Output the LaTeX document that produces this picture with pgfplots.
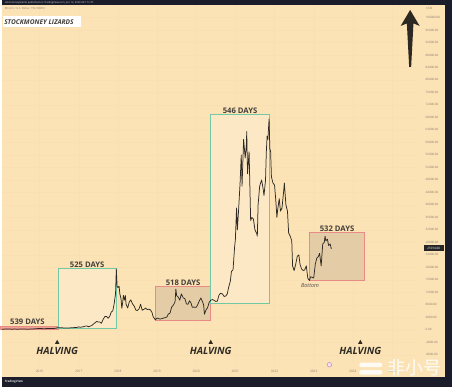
\documentclass[border=0pt]{standalone}
\usepackage{pgfplots}
\pgfplotsset{compat=1.18}
\usepackage{fontspec}
\setmainfont{Open Sans}
\newfontfamily\cjk{Noto Sans CJK SC}
\definecolor{bg}{HTML}{FCE3B6}
\definecolor{frame}{HTML}{1B1E2A}
\definecolor{gbox}{HTML}{72C9A3}
\definecolor{rbox}{HTML}{E88A86}
\definecolor{rfill}{HTML}{E3CCA6}
\definecolor{gfill}{HTML}{FDE8C6}
\definecolor{ink}{HTML}{2E2A24}
\definecolor{tickc}{HTML}{8C8070}
\definecolor{gridc}{HTML}{F9DFB1}
\begin{document}
\begin{tikzpicture}[x=1pt,y=1pt]
\fill[frame] (0,0) rectangle (452,388);
\fill[bg] (0,10) rectangle (445,383);
\begin{axis}[at={(0pt,22pt)}, anchor=south west, scale only axis,
  width=418pt, height=361pt,
  xmin=2015.03, xmax=2025.666, ymin=-11165, ymax=103994,
  clip=false, axis line style={draw=none}, major tick length=0pt,
  grid=major, grid style={color=gridc, line width=0.3pt},
  scaled y ticks=false, scaled x ticks=false,
  xtick={2016,2017,2018,2019,2020,2021,2022,2023,2024,2025},
  xticklabels={2016,2017,2018,2019,2020,2021,2022,2023,2024,2025},
  xticklabel style={font=\fontsize{3.2}{3.5}\selectfont, text=tickc, yshift=-2pt},
  ytick={-8000,-4000,...,100000},
  yticklabel pos=right,
  yticklabel={\pgfmathprintnumber[fixed,fixed zerofill,precision=2,1000 sep={}]{\tick}},
  yticklabel style={font=\fontsize{3}{3.3}\selectfont, text=tickc, xshift=4pt},
  /pgf/number format/assume math mode=true,
]
% boxes
\draw[rbox, fill=rbox!70!bg, line width=0.8pt] (2015.0,250) rectangle (2016.47,1150);
\draw[gbox, fill=gfill, line width=0.8pt] (2016.47,600) rectangle (2017.96,19800);
\draw[rbox, fill=rfill, line width=0.8pt] (2018.96,2900) rectangle (2020.37,14000);
\draw[gbox, fill=gfill, line width=0.8pt] (2020.37,8600) rectangle (2021.87,68900);
\draw[rbox, fill=rfill, line width=0.8pt] (2022.89,15950) rectangle (2024.30,31260);
% price
\addplot[ink, line width=0.75pt, line join=round] coordinates {
(2015.04,210) (2015.08,230) (2015.12,255) (2015.17,240) (2015.21,280) (2015.25,245) (2015.29,225) (2015.33,235) (2015.37,240) (2015.42,230) (2015.46,225) (2015.50,250) (2015.54,285) (2015.58,280) (2015.62,265) (2015.67,230) (2015.71,230) (2015.75,236) (2015.79,250) (2015.83,290) (2015.87,330) (2015.92,330) (2015.96,430) (2016.00,430)
(2016.04,430) (2016.08,380) (2016.12,375) (2016.17,400) (2016.21,430) (2016.25,415) (2016.29,420) (2016.33,445) (2016.37,455) (2016.42,530) (2016.46,700) (2016.50,670) (2016.54,650) (2016.58,655) (2016.62,585) (2016.67,575) (2016.71,605) (2016.75,610) (2016.79,640) (2016.83,700) (2016.87,710) (2016.92,740) (2016.96,790) (2017.00,960)
(2017.04,830) (2017.08,920) (2017.12,1000) (2017.17,1190) (2017.21,1240) (2017.25,1000) (2017.29,1190) (2017.33,1350) (2017.37,1800) (2017.42,2300) (2017.46,2700) (2017.50,2500) (2017.54,2500) (2017.58,2100) (2017.62,3300) (2017.67,4300) (2017.71,4300) (2017.75,3700) (2017.79,4300) (2017.83,5700) (2017.87,6100) (2017.90,8000) (2017.92,9800) (2017.94,11500) (2017.96,19500) (2017.98,14000) (2018.00,13500)
(2018.03,14000) (2018.05,11500) (2018.08,10000) (2018.10,6900) (2018.12,8500) (2018.14,11000) (2018.17,9500) (2018.19,11000) (2018.21,8200) (2018.25,7000) (2018.29,8900) (2018.33,9600) (2018.37,8400) (2018.42,7500) (2018.46,6300) (2018.50,6200) (2018.54,6700) (2018.58,8200) (2018.62,6300) (2018.67,6600) (2018.71,7000) (2018.75,6500) (2018.79,6600) (2018.83,6400) (2018.87,5600) (2018.90,4200) (2018.94,3500) (2018.96,3200) (2019.00,3800)
(2019.04,3600) (2019.08,3450) (2019.12,3600) (2019.17,3800) (2019.21,3900) (2019.25,4100) (2019.29,5100) (2019.33,5300) (2019.37,7200) (2019.42,8000) (2019.46,9000) (2019.48,13000) (2019.50,11000) (2019.54,10500) (2019.58,9500) (2019.62,11500) (2019.67,10200) (2019.71,10000) (2019.75,8300) (2019.79,8200) (2019.83,9300) (2019.87,8500) (2019.90,7200) (2019.94,7300) (2019.98,7200) (2020.00,7200)
(2020.04,8100) (2020.08,9300) (2020.12,10200) (2020.17,8700) (2020.19,7900) (2020.21,5000) (2020.25,6400) (2020.29,7100) (2020.33,8800) (2020.37,9500) (2020.42,9700) (2020.46,9400) (2020.50,9100) (2020.54,9200) (2020.58,11100) (2020.62,11700) (2020.67,11500) (2020.71,10700) (2020.75,10800) (2020.79,11400) (2020.83,13700) (2020.87,15500) (2020.90,18700) (2020.94,19200) (2020.98,26500) (2021.00,29000)
(2021.03,39000) (2021.05,32000) (2021.08,38000) (2021.12,47000) (2021.15,56000) (2021.17,46000) (2021.21,61000) (2021.25,55000) (2021.28,59000) (2021.29,63500) (2021.31,50000) (2021.35,57000) (2021.37,46000) (2021.39,35000) (2021.42,36000) (2021.46,35500) (2021.50,32000) (2021.54,31000) (2021.56,30000) (2021.58,40000) (2021.62,46000) (2021.67,48000) (2021.71,45000) (2021.73,43000) (2021.77,48000) (2021.79,57000) (2021.81,62000) (2021.83,61000) (2021.86,67500) (2021.88,58000) (2021.90,57000) (2021.92,49000) (2021.96,47000) (2022.00,46300)
(2022.03,41800) (2022.06,36000) (2022.08,38500) (2022.12,42000) (2022.15,38000) (2022.19,39000) (2022.23,44000) (2022.25,47000) (2022.29,40000) (2022.33,38000) (2022.36,31000) (2022.40,30000) (2022.44,28500) (2022.46,20500) (2022.50,19000) (2022.54,21000) (2022.58,23500) (2022.62,24000) (2022.65,21000) (2022.69,19500) (2022.73,19000) (2022.77,19200) (2022.81,20500) (2022.85,16500) (2022.89,15800) (2022.92,17000) (2022.96,16800) (2023.00,16600)
(2023.04,21000) (2023.08,23000) (2023.12,23500) (2023.15,24500) (2023.19,20500) (2023.23,27500) (2023.27,28000) (2023.29,30000) (2023.31,28500) (2023.35,29000) (2023.38,27000) (2023.42,27500) (2023.45,25900)
};
% labels
\tikzset{days/.style={font=\bfseries\fontsize{7.7}{8}\selectfont, text=ink!90, anchor=south, inner sep=0.7pt}}
\node[days, anchor=center] at (2015.69,2550) {539 DAYS};
\node[days] at (2017.215,19800) {525 DAYS};
\node[days] at (2019.665,14000) {518 DAYS};
\node[days] at (2021.12,68900) {546 DAYS};
\node[days] at (2023.595,31260) {532 DAYS};
\node[font=\itshape\fontsize{5.5}{6}\selectfont, text=ink!85] at (2022.905,14036) {Bottom};
\fill[ink] (2016.395,-4466) -- (2016.505,-4466) -- (2016.45,-3150) -- cycle;
\node[font=\bfseries\itshape\fontsize{10}{10}\selectfont, text=ink] at (2016.45,-6800) {HALVING};
\fill[ink] (2020.315,-4466) -- (2020.425,-4466) -- (2020.37,-3150) -- cycle;
\node[font=\bfseries\itshape\fontsize{10}{10}\selectfont, text=ink] at (2020.37,-6800) {HALVING};
\fill[ink] (2024.135,-4466) -- (2024.245,-4466) -- (2024.19,-3150) -- cycle;
\node[font=\bfseries\itshape\fontsize{10}{10}\selectfont, text=ink] at (2024.19,-6800) {HALVING};
\end{axis}
% overlays (y measured from top)
\begin{scope}[yshift=388pt, y=-1pt]
\fill[frame] (0,0) rectangle (452,5);
\node[anchor=west, font=\fontsize{2.6}{3}\selectfont, text=white!80!frame, inner sep=0] at (3,2.6) {stockmoneylizards published on TradingView.com, Jun 12, 2023 06:17 UTC};
\node[anchor=west, font=\fontsize{2.8}{3}\selectfont, text=tickc, inner sep=0] at (3,8.3) {Bitcoin / U.S. Dollar, 1W, INDEX};
\fill[white] (1.5,16.5) rectangle (80,27);
\node[anchor=west, font=\bfseries\itshape\fontsize{6.6}{7}\selectfont, text=ink!90, inner sep=0] at (2.5,21.8) {STOCKMONEY LIZARDS};
\node[anchor=west, font=\fontsize{3}{3.3}\selectfont, text=tickc, inner sep=0] at (426,8) {USD};
% arrow
\fill[ink!95!black] (410,10) -- (419.5,26) -- (413.3,23.5) -- (411,67) -- (409,67) -- (406.7,23.5) -- (400.5,26) -- cycle;
% current price
\fill[black!85] (424,246) rectangle (443.5,252);
\node[font=\fontsize{3}{3.3}\selectfont, text=white, inner sep=0] at (433.7,249) {25914.00};
% event icon
\draw[violet!45, fill=violet!12, line width=0.5pt] (329,366) circle (2.3);
% watermark
\fill[white, opacity=0.85, rounded corners=1.5pt] (359,364) rectangle (382,368.5);
\fill[white, opacity=0.85, rounded corners=1.5pt] (359,371.5) rectangle (382,376);
\node[font=\cjk\fontsize{18}{18}\selectfont, text=white, opacity=0.88, inner sep=0] at (414.5,369.5) {非小号};
% bottom bar
\node[anchor=west, font=\bfseries\fontsize{3}{3.3}\selectfont, text=white!85!frame, inner sep=0] at (3,383) {TradingView};
\end{scope}
\end{tikzpicture}
\end{document}
